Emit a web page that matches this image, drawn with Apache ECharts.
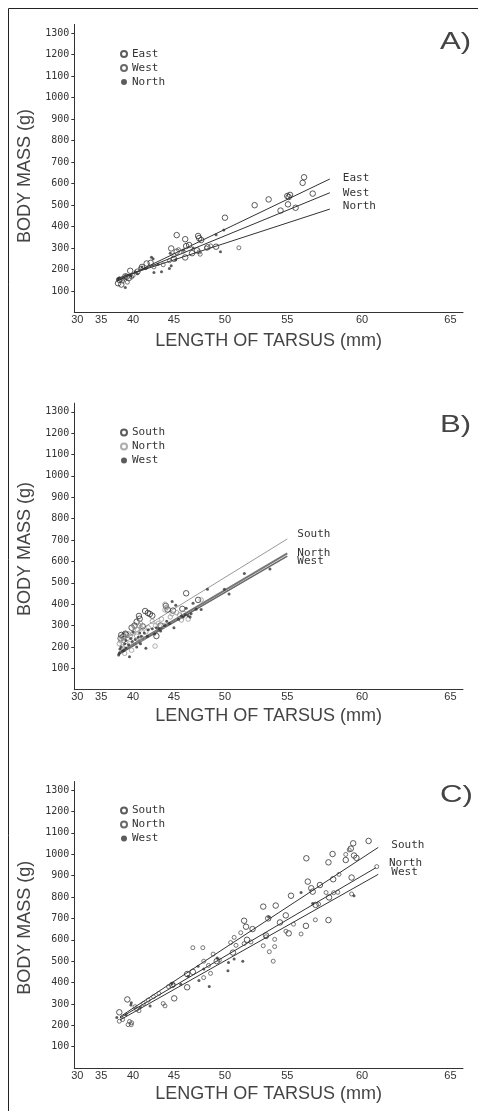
<!DOCTYPE html>
<html>
<head>
<meta charset="utf-8">
<script src="https://cdn.jsdelivr.net/npm/echarts@6/dist/echarts.min.js"></script>
<style>
html,body{margin:0;padding:0;background:#fff;}
#chart{width:478px;height:1111px;}
</style>
</head>
<body>
<div id="chart"></div>
<script>
// ---- tick labels ----
const XTICKS = [30, 35, 40, 45, 50, 55, 60, 65];          // tarsus (mm), axis drawn on a cubic scale
const YTICKS = [100, 200, 300, 400, 500, 600, 700, 800, 900, 1000, 1100, 1200, 1300];

// ---- panel A: [tarsus mm, body mass g] ----
const A_EAST = [[56.2,629],[56.1,603],[56.8,553],[55.0,542],[55.1,537],[55.2,547],[53.6,526],[52.5,499],[54.5,474],[55.6,487],[55.05,503],[50.0,441],[45.3,360],[46.2,341],[47.5,356],[47.6,346],[44.7,298],[46.3,309],[46.6,314],[47.8,337],[48.4,303],[49.2,306],[47.4,289],[46.9,276],[46.2,256],[45.3,283],[41.8,228],[39.6,194],[38.9,168],[38.0,152],[37.8,136],[38.3,130],[39.4,160],[39.1,166],[42.3,231],[45.0,250],[40.6,190],[41.2,212]];
const A_WEST = [[51.2,301],[47.7,271],[48.3,300],[46.0,285],[45.0,266],[43.8,222],[41.0,205],[40.0,172],[38.6,156],[39.2,141],[38.5,146],[48.7,310],[44.5,241],[42.7,212],[47.6,282],[39.8,165],[45.5,292]];
const A_NORTH = [[49.2,362],[49.9,384],[49.6,283],[42.4,257],[42.6,250],[41.7,205],[42.7,186],[43.6,189],[44.5,205],[44.7,218],[44.6,276],[41.2,212],[40.6,180],[38.0,160],[38.9,116],[39.7,170],[45.2,245],[46.0,290],[40.3,190],[37.8,155],[43.2,225],[47.0,300]];
const A_LINE_EAST = [[37.6,145],[57.95,621]];
const A_LINE_WEST = [[37.6,150],[57.95,557]];
const A_LINE_NORTH = [[37.6,158],[57.95,481]];

// ---- panel B ----
const B_SOUTH = [[46.3,451],[41.6,368],[41.95,359],[42.2,354],[42.5,346],[44.1,392],[43.0,251],[40.2,300],[40.9,332],[38.3,256],[38.6,250],[39.0,258],[44.9,370],[45.9,378],[41.3,296],[39.8,290],[43.5,300],[38.2,240],[47.5,420],[40.5,318],[44.3,375],[38.9,262],[40.8,345]];
const B_NORTH = [[42.84,204],[45.8,326],[47.8,420],[44.0,373],[44.2,385],[44.0,400],[43.6,330],[42.5,320],[41.0,310],[40.6,280],[40.0,265],[39.2,240],[38.6,230],[38.0,215],[38.4,200],[39.5,215],[39.8,185],[40.5,250],[41.3,240],[42.0,290],[43.2,310],[44.6,340],[45.3,360],[46.5,330],[46.0,360],[38.8,170],[39.0,205],[40.8,225],[41.7,270],[43.9,300],[38.2,228],[39.3,262],[40.2,295],[41.1,285],[38.5,245],[39.6,250],[40.9,300],[42.9,300],[44.8,355],[45.6,350]];
const B_WEST = [[51.66,544],[53.7,565],[50.36,448],[49.95,470],[48.4,470],[47.3,376],[46.3,381],[47.0,404],[46.5,346],[46.7,340],[45.0,290],[44.8,412],[41.7,194],[39.5,154],[37.9,162],[38.0,170],[38.5,180],[39.0,195],[39.4,210],[39.9,225],[40.3,235],[40.7,245],[41.1,250],[41.5,265],[42.0,280],[42.5,285],[43.0,290],[43.5,275],[44.0,300],[44.5,310],[45.5,330],[46.0,340],[46.8,355],[45.2,395],[40.0,270],[39.0,230],[38.3,200],[42.8,260],[41.0,215],[38.7,185],[40.5,200],[45.8,345],[47.8,375],[44.2,320],[38.1,190],[38.8,215],[39.7,240],[40.9,265],[41.9,250],[43.3,285],[46.2,350]];
const B_LINE_SOUTH = [[38.5,230],[55.0,705]];
const B_LINE_NORTH = [[37.9,172],[55.0,638]];
const B_LINE_WEST = [[37.9,165],[55.0,625]];

// ---- panel C ----
const C_SOUTH = [[60.4,1062],[59.45,1051],[59.3,1026],[59.5,994],[59.65,983],[58.13,1001],[57.86,962],[58.98,973],[56.36,981],[56.46,872],[56.7,841],[56.8,825],[57.29,856],[58.17,883],[57.9,798],[57.86,692],[59.35,891],[55.27,806],[53.18,755],[54.14,760],[54.89,714],[54.46,681],[53.57,700],[51.64,689],[52.33,650],[51.8,661],[51.88,600],[55.1,630],[56.33,665],[57.0,763],[46.4,378],[45.03,326],[46.4,440],[44.82,389],[46.98,450],[38.0,261],[39.19,321],[49.26,500],[50.7,540],[53.4,620]];
const C_NORTH = [[46.98,563],[47.96,563],[48.05,500],[48.93,533],[50.5,587],[50.96,574],[51.36,633],[48.04,423],[48.69,443],[43.8,302],[44.0,291],[39.5,218],[39.3,203],[39.75,203],[39.8,212],[38.0,219],[38.5,227],[40.8,268],[53.18,572],[53.65,544],[53.95,500],[54.06,568],[54.06,602],[55.45,673],[55.99,627],[56.98,693],[58.55,906],[58.98,999],[59.2,1020],[58.47,822],[58.2,820],[59.35,814],[60.89,942],[57.2,767],[57.7,821],[50.8,611],[53.4,614],[51.64,582],[40.27,287],[41.4,302],[42.0,318],[42.65,334],[43.3,349],[44.4,381],[44.95,389],[40.5,275],[48.5,480],[49.5,505],[52.2,590],[54.9,640]];
const C_WEST = [[55.99,821],[51.53,499],[50.31,494],[50.26,455],[50.8,510],[48.57,382],[47.58,410],[47.5,476],[48.05,463],[45.74,392],[44.79,394],[39.7,295],[39.75,305],[42.23,290],[37.61,236],[53.6,707],[49.3,515],[59.5,806],[39.0,250],[41.0,285],[46.5,430],[56.8,770]];
const C_LINE_SOUTH = [[38.11,240],[60.98,1032]];
const C_LINE_NORTH = [[38.11,235],[60.84,937]];
const C_LINE_WEST = [[38.11,225],[60.98,906]];

// ---- helpers / styling ----
const cube = v => v * v * v;
const toXY = arr => arr.map(p => [cube(p[0]), p[1]]);
const MONO = 'DejaVu Sans Mono';
const SANS = 'Liberation Sans';
const INK = '#333';

const grids = [
  {left: 74.3, width: 388.7, top: 24.4, height: 288.1},
  {left: 74.3, width: 388.7, top: 403.2, height: 286.5},
  {left: 74.3, width: 388.7, top: 781.5, height: 286.6}
];
const yNamePad = [15, 5, 6];
const xNameGap = [20, 17, 17];

function xAxis(i) {
  return {
    gridIndex: i, type: 'value', min: 25000, max: 283000,
    splitLine: {show: false},
    axisLine: {show: true, onZero: false, lineStyle: {color: INK, width: 1}},
    axisTick: {show: false},
    axisLabel: {
      customValues: XTICKS.map(cube),
      formatter: v => String(Math.round(Math.cbrt(v))),
      fontFamily: SANS, fontSize: 11, color: INK, margin: 2
    },
    name: 'LENGTH OF TARSUS (mm)', nameLocation: 'middle', nameGap: xNameGap[i],
    nameTextStyle: {fontFamily: SANS, fontSize: 18, color: '#444'}
  };
}
function yAxis(i) {
  return {
    gridIndex: i, type: 'value', min: 0, max: 1340,
    splitLine: {show: false},
    axisLine: {show: true, onZero: false, lineStyle: {color: INK, width: 1}},
    axisTick: {show: true, customValues: YTICKS, length: 3, lineStyle: {color: INK}},
    axisLabel: {customValues: YTICKS, formatter: v => String(v), fontFamily: MONO, fontSize: 10, color: INK, margin: 5},
    name: 'BODY MASS (g)', nameLocation: 'middle', nameGap: 27,
    nameTextStyle: {fontFamily: SANS, fontSize: 18, color: '#444', padding: [0, yNamePad[i], 0, 0]}
  };
}
function scatter(i, name, data, size, style) {
  return {
    type: 'scatter', name: name, xAxisIndex: i, yAxisIndex: i,
    data: toXY(data), symbol: 'circle', symbolSize: size,
    itemStyle: style, silent: true, z: 3,
    emphasis: {disabled: true}
  };
}
function fitLine(i, name, data, color, width, distance, dy) {
  return {
    type: 'line', name: name, xAxisIndex: i, yAxisIndex: i,
    data: toXY(data), symbol: 'none', silent: true, z: 2,
    lineStyle: {color: color, width: width},
    endLabel: {
      show: true, formatter: p => p.seriesName.split('|')[1],
      fontFamily: MONO, fontSize: 11, color: INK, distance: distance, offset: [0, dy]
    },
    emphasis: {disabled: true}
  };
}
const OPEN_BIG = {color: 'rgba(255,255,255,0)', borderColor: '#333', borderWidth: 1};
const OPEN_SMALL = {color: 'rgba(255,255,255,0)', borderColor: '#444', borderWidth: 0.9};
const OPEN_GRAY = {color: 'rgba(255,255,255,0)', borderColor: '#999', borderWidth: 1};
const DOT = {color: '#333'};

function legend(names, top) {
  return {
    data: names, orient: 'vertical', left: 120, top: top, padding: 0,
    itemWidth: 6, itemHeight: 6, itemGap: 3, selectedMode: false,
    formatter: n => n.split('|')[1],
    textStyle: {fontFamily: MONO, fontSize: 11, color: INK}
  };
}

const option = {
  animation: false,
  backgroundColor: '#fff',
  grid: grids,
  xAxis: [xAxis(0), xAxis(1), xAxis(2)],
  yAxis: [yAxis(0), yAxis(1), yAxis(2)],
  legend: [
    legend(['A|East', 'A|West', 'A|North'], 48.5),
    legend(['B|South', 'B|North', 'B|West'], 427),
    legend(['C|South', 'C|North', 'C|West'], 805)
  ],
  graphic: [
    {type: 'line', shape: {x1: 8.5, y1: 8.5, x2: 478, y2: 8.5}, style: {stroke: '#222', lineWidth: 1}},
    {type: 'line', shape: {x1: 8.5, y1: 8.5, x2: 8.5, y2: 1111}, style: {stroke: '#222', lineWidth: 1}},
    {type: 'text', x: 440, y: 30, scaleX: 1.3, style: {text: 'A)', font: '24px "Liberation Sans"', fill: '#444', verticalAlign: 'top'}},
    {type: 'text', x: 440, y: 413, scaleX: 1.3, style: {text: 'B)', font: '24px "Liberation Sans"', fill: '#444', verticalAlign: 'top'}},
    {type: 'text', x: 440, y: 783, scaleX: 1.3, style: {text: 'C)', font: '24px "Liberation Sans"', fill: '#444', verticalAlign: 'top'}}
  ],
  series: [
    scatter(0, 'A|East', A_EAST, 5.5, OPEN_BIG),
    scatter(0, 'A|West', A_WEST, 4, OPEN_SMALL),
    scatter(0, 'A|North', A_NORTH, 3, DOT),
    fitLine(0, 'A|East', A_LINE_EAST, '#333', 1, 13, -1),
    fitLine(0, 'A|West', A_LINE_WEST, '#333', 1, 13, 0),
    fitLine(0, 'A|North', A_LINE_NORTH, '#333', 1, 13, -3),

    scatter(1, 'B|South', B_SOUTH, 5.5, OPEN_BIG),
    scatter(1, 'B|North', B_NORTH, 4.5, OPEN_GRAY),
    scatter(1, 'B|West', B_WEST, 3, DOT),
    fitLine(1, 'B|South', B_LINE_SOUTH, '#999', 1, 10, -5),
    fitLine(1, 'B|North', B_LINE_NORTH, '#777', 2, 10, 0),
    fitLine(1, 'B|West', B_LINE_WEST, '#666', 1.5, 10, 5),

    scatter(2, 'C|South', C_SOUTH, 5.5, OPEN_BIG),
    scatter(2, 'C|North', C_NORTH, 4, OPEN_SMALL),
    scatter(2, 'C|West', C_WEST, 3, DOT),
    fitLine(2, 'C|South', C_LINE_SOUTH, '#333', 1, 13, -2),
    fitLine(2, 'C|North', C_LINE_NORTH, '#333', 1, 13, -5),
    fitLine(2, 'C|West', C_LINE_WEST, '#333', 1, 13, -2)
  ]
};

const chart = echarts.init(document.getElementById('chart'), null, {renderer: 'canvas'});
chart.setOption(option);
</script>
</body>
</html>
